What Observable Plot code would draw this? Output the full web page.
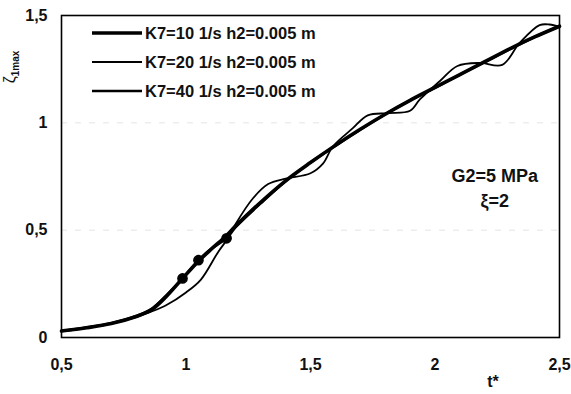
<!DOCTYPE html>
<html>
<head>
<meta charset="utf-8">
<script src="https://cdn.jsdelivr.net/npm/d3@7"></script>
<script src="https://cdn.jsdelivr.net/npm/@observablehq/plot@0.6"></script>
<style>
  body { margin: 0; background: #fff; }
  svg { font-family: "Liberation Sans", Arial, sans-serif; }
</style>
</head>
<body>
<div id="chart"></div>
<script>
// Axis ticks
const xTicks = [0.5, 1, 1.5, 2, 2.5];
const yTicks = [0, 0.5, 1, 1.5];

// Series names
const seriesNames = ["K7=10 1/s h2=0.005 m", "K7=20 1/s h2=0.005 m", "K7=40 1/s h2=0.005 m"];

// K7=10: smooth growth
const t10 = [0.5, 0.6, 0.7, 0.8, 0.86, 0.92, 0.986, 1.05, 1.1, 1.16, 1.2, 1.3, 1.4, 1.5, 1.6, 1.7, 1.8, 1.9, 2.0, 2.1, 2.2, 2.3, 2.4, 2.5];
const v10 = [0.03, 0.045, 0.065, 0.098, 0.128, 0.19, 0.275, 0.355, 0.41, 0.472, 0.52, 0.63, 0.73, 0.815, 0.895, 0.97, 1.04, 1.105, 1.165, 1.225, 1.285, 1.345, 1.4, 1.45];

// K7=20: delayed start, then stepwise oscillation
const t20 = [0.5, 0.7, 0.8, 0.86, 0.92, 1.0, 1.06, 1.13, 1.17, 1.2, 1.27, 1.33, 1.4, 1.5, 1.55, 1.59, 1.67, 1.73, 1.81, 1.9, 1.94, 2.02, 2.09, 2.18, 2.27, 2.34, 2.42, 2.46, 2.5];
const v20 = [0.03, 0.065, 0.095, 0.12, 0.15, 0.21, 0.27, 0.4, 0.465, 0.53, 0.65, 0.715, 0.74, 0.765, 0.81, 0.89, 0.975, 1.035, 1.045, 1.056, 1.11, 1.195, 1.265, 1.279, 1.27, 1.372, 1.455, 1.458, 1.447];

// K7=40: close to K7=10
const t40 = [0.5, 0.6, 0.7, 0.8, 0.86, 0.92, 0.986, 1.05, 1.1, 1.163, 1.2, 1.3, 1.4, 1.5, 1.6, 1.7, 1.8, 1.9, 2.0, 2.1, 2.2, 2.3, 2.4, 2.5];
const v40 = [0.03, 0.046, 0.066, 0.1, 0.132, 0.195, 0.275, 0.36, 0.412, 0.462, 0.515, 0.625, 0.728, 0.815, 0.893, 0.968, 1.04, 1.105, 1.163, 1.225, 1.283, 1.343, 1.4, 1.45];
// K7=40 points drawn with markers
const marked40 = [0.986, 1.05, 1.163];

const widths = [3.6, 1.8, 2.6];

const rows = (ts, vs, s) => ts.map((t, i) => ({t, v: vs[i], s}));
const data10 = rows(t10, v10, seriesNames[0]);
const data20 = rows(t20, v20, seriesNames[1]);
const data40 = rows(t40, v40, seriesNames[2]);
const dots40 = data40.filter(d => marked40.includes(d.t));

const fmt = d => String(d).replace(".", ",");

const plot = Plot.plot({
  width: 571,
  height: 394,
  marginLeft: 61,
  marginRight: 12,
  marginTop: 15,
  marginBottom: 57,
  style: {fontFamily: "Liberation Sans, Arial, sans-serif", background: "#fff"},
  x: {domain: [0.5, 2.5]},
  y: {domain: [0, 1.5]},
  marks: [
    Plot.ruleY([0.5, 1], {stroke: "#e4e4e4", strokeDasharray: "6,8"}),
    Plot.frame({stroke: "#000", strokeWidth: 1.6}),
    Plot.axisX({ticks: xTicks, tickSize: 0, tickPadding: 21, tickFormat: fmt, fontSize: 16, fontWeight: "bold", fill: "#111", label: null}),
    Plot.axisY({ticks: yTicks, tickSize: 0, tickPadding: 14, tickFormat: fmt, fontSize: 16, fontWeight: "bold", fill: "#111", label: null}),
    Plot.line(data20, {x: "t", y: "v", stroke: "#000", strokeWidth: widths[1], curve: "catmull-rom"}),
    Plot.line(data40, {x: "t", y: "v", stroke: "#000", strokeWidth: widths[2], curve: "catmull-rom"}),
    Plot.line(data10, {x: "t", y: "v", stroke: "#000", strokeWidth: widths[0], curve: "catmull-rom"}),
    Plot.dot(dots40, {x: "t", y: "v", r: 4.6, fill: "#000", stroke: "#000"}),
    Plot.text(["G2=5 MPa"], {x: 2.24, y: 0.75, fontSize: 18, fontWeight: "bold", fill: "#111"}),
    Plot.text(["ξ=2"], {x: 2.24, y: 0.637, fontSize: 18, fontWeight: "bold", fill: "#111"})
  ]
});

const svg = d3.select(plot);

// Legend inside the frame, top left
const legend = svg.append("g").attr("transform", "translate(92,33)");
seriesNames.forEach((name, i) => {
  const g = legend.append("g").attr("transform", `translate(0,${i * 29})`);
  g.append("line").attr("x1", 0).attr("x2", 50).attr("y1", 0).attr("y2", 0)
    .attr("stroke", "#000").attr("stroke-width", widths[i]);
  g.append("text").attr("x", 53).attr("y", 0).attr("dy", "0.36em")
    .attr("text-anchor", "start")
    .attr("font-size", 16.5).attr("font-weight", "bold").attr("fill", "#111").text(name);
});

// Axis titles
const yl = svg.append("text").attr("transform", "translate(15,67) rotate(-90)")
  .attr("text-anchor", "middle").attr("fill", "#111").attr("font-size", 16);
yl.append("tspan").text("ζ");
yl.append("tspan").attr("font-size", 10).attr("font-weight", "bold").attr("dy", 4).text("1max");

svg.append("text").attr("x", 493).attr("y", 387).attr("text-anchor", "middle")
  .attr("font-size", 16).attr("font-weight", "bold").attr("fill", "#111").text("t*");

document.getElementById("chart").appendChild(plot);
</script>
</body>
</html>
